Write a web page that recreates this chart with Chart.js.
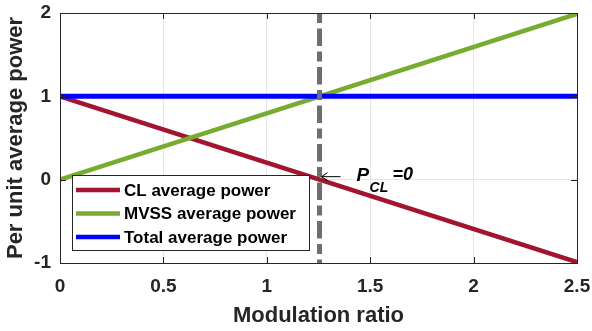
<!DOCTYPE html>
<html>
<head>
<meta charset="utf-8">
<script src="https://cdn.jsdelivr.net/npm/chart.js@4"></script>
<style>
body{margin:0;background:#fff;}
#wrap{width:592px;height:331px;}
</style>
</head>
<body>
<div id="wrap"><canvas id="powerChart" width="592" height="331"></canvas></div>
<script>
// data
const modulation = [0, 2.5];
const clPower = [1, -0.99];
const mvssPower = [0, 1.99];
const totalPower = [1, 1];
const crossRatio = 1.255;          // where P_CL = 0
const dashY = [2, -1];
const xTicks = [0, 0.5, 1, 1.5, 2, 2.5];
const yTicks = [-1, 0, 1, 2];
const seriesNames = ["CL average power", "MVSS average power", "Total average power"];

const FONT = "'Liberation Sans', Arial, sans-serif";
const red = "#A2142F", green = "#77AC30", blue = "#0000FF";

function pts(xs, ys){ return xs.map((x,i) => ({x:x, y:ys[i]})); }

// box, inward ticks, legend, annotation
const boxPlugin = {
    id: "box",
    afterDraw(chart){
        const ctx = chart.ctx, a = chart.chartArea;
        const sx = chart.scales.x, sy = chart.scales.y;
        ctx.save();
        ctx.strokeStyle = "#262626";
        ctx.lineWidth = 1;
        ctx.strokeRect(Math.round(a.left)+0.5, Math.round(a.top)+0.5, Math.round(a.right-a.left), Math.round(a.bottom-a.top));
        const tl = 6;
        ctx.beginPath();
        xTicks.forEach(v => {
            const px = Math.round(sx.getPixelForValue(v))+0.5;
            ctx.moveTo(px, a.bottom); ctx.lineTo(px, a.bottom-tl);
            ctx.moveTo(px, a.top); ctx.lineTo(px, a.top+tl);
        });
        yTicks.forEach(v => {
            const py = Math.round(sy.getPixelForValue(v))+0.5;
            ctx.moveTo(a.left, py); ctx.lineTo(a.left+tl, py);
            ctx.moveTo(a.right, py); ctx.lineTo(a.right-tl, py);
        });
        ctx.stroke();

        // legend
        const lx = 72, ly = 175, lw = 237, lh = 75;
        ctx.fillStyle = "#fff";
        ctx.fillRect(lx, ly, lw, lh);
        ctx.strokeStyle = "#262626";
        ctx.strokeRect(lx+0.5, ly+0.5, lw, lh);
        const cols = [red, green, blue];
        ctx.font = "bold 17px " + FONT;
        ctx.textBaseline = "middle";
        seriesNames.forEach((n,i) => {
            const yy = ly + 15 + i*23.5;
            ctx.strokeStyle = cols[i];
            ctx.lineWidth = 4.5;
            ctx.beginPath(); ctx.moveTo(76, yy); ctx.lineTo(120, yy); ctx.stroke();
            ctx.fillStyle = "#000";
            ctx.fillText(n, 124, yy+1);
        });

        // P_CL = 0 arrow
        const ax = sx.getPixelForValue(crossRatio) + 2, ay = sy.getPixelForValue(0) - 3;
        ctx.strokeStyle = "#000";
        ctx.lineWidth = 1;
        ctx.beginPath();
        ctx.moveTo(ax+19, ay); ctx.lineTo(ax, ay);
        ctx.moveTo(ax+6, ay-4); ctx.lineTo(ax, ay); ctx.lineTo(ax+6, ay+4);
        ctx.stroke();
        ctx.fillStyle = "#000";
        ctx.textBaseline = "alphabetic";
        ctx.font = "italic bold 19px " + FONT;
        ctx.fillText("P", ax+35, ay+4);
        ctx.font = "italic bold 14px " + FONT;
        ctx.fillText("CL", ax+48, ay+15);
        ctx.font = "italic bold 18px " + FONT;
        ctx.fillText("=0", ax+71, ay+3);
        ctx.restore();
    }
};

new Chart(document.getElementById("powerChart"), {
    type: "line",
    data: {
        datasets: [
            { data: pts([crossRatio, crossRatio], dashY), borderColor: "#6e6e6e", borderWidth: 5, borderDash: [10,5.5,17.5,5.5], order: 0 },
            { data: pts(modulation, totalPower), borderColor: blue, borderWidth: 5, order: 1 },
            { data: pts(modulation, mvssPower), borderColor: green, borderWidth: 4.5, order: 2 },
            { data: pts(modulation, clPower), borderColor: red, borderWidth: 4.5, order: 3 }
        ]
    },
    options: {
        responsive: false,
        animation: false,
        clip: 0,
        layout: { padding: { top: 13, right: 15, left: 0, bottom: 0 } },
        elements: { point: { radius: 0 }, line: { tension: 0, borderCapStyle: "butt" } },
        plugins: { legend: { display: false }, tooltip: { enabled: false } },
        scales: {
            x: {
                type: "linear", min: 0, max: 2.5,
                afterFit: s => { s.height = 68; s.paddingLeft = 0; s.paddingRight = 0; },
                afterBuildTicks: s => { s.ticks = xTicks.map(v => ({value: v})); },
                grid: { color: "#e6e6e6", drawTicks: false },
                border: { display: false },
                ticks: { color: "#262626", font: { family: FONT, size: 19, weight: "bold" }, padding: 12, maxRotation: 0,
                         callback: v => String(v) },
                title: { display: true, text: "Modulation ratio", color: "#262626", font: { family: FONT, size: 22, weight: "bold" }, padding: { top: 0, bottom: 2 } }
            },
            y: {
                type: "linear", min: -1, max: 2,
                afterFit: s => { s.width = 60; s.paddingTop = 0; s.paddingBottom = 0; },
                afterBuildTicks: s => { s.ticks = yTicks.map(v => ({value: v})); },
                grid: { color: "#e6e6e6", drawTicks: false },
                border: { display: false },
                ticks: { color: "#262626", font: { family: FONT, size: 19, weight: "bold" }, padding: 9,
                         callback: v => String(v) },
                title: { display: true, text: "Per unit average power", color: "#262626", font: { family: FONT, size: 22, weight: "bold" }, padding: { top: 3, bottom: 0 } }
            }
        }
    },
    plugins: [boxPlugin]
});
</script>
</body>
</html>
